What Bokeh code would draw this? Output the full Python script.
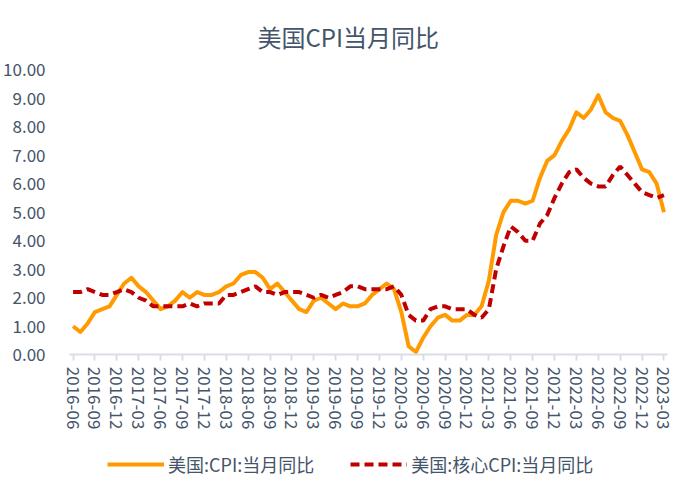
from bokeh.plotting import figure
from bokeh.models import ColumnDataSource, FixedTicker, Legend, LegendItem, Title
from bokeh.embed import file_html
from bokeh.resources import INLINE

# monthly, 2016-06 .. 2023-03
months = []
for yr in range(2016, 2024):
    for mo in range(1, 13):
        if (yr, mo) < (2016, 6) or (yr, mo) > (2023, 3):
            continue
        months.append("{}-{:02d}".format(yr, mo))

cpi = [1.0, 0.8, 1.1, 1.5, 1.6, 1.7, 2.1,
       2.5, 2.7, 2.4, 2.2, 1.9, 1.6, 1.7, 1.9, 2.2, 2.0, 2.2, 2.1,
       2.1, 2.2, 2.4, 2.5, 2.8, 2.9, 2.9, 2.7, 2.3, 2.5, 2.2, 1.9,
       1.6, 1.5, 1.9, 2.0, 1.8, 1.6, 1.8, 1.7, 1.7, 1.8, 2.1, 2.3,
       2.5, 2.3, 1.5, 0.3, 0.1, 0.6, 1.0, 1.3, 1.4, 1.2, 1.2, 1.4,
       1.4, 1.7, 2.6, 4.2, 5.0, 5.4, 5.4, 5.3, 5.4, 6.2, 6.8, 7.0,
       7.5, 7.9, 8.5, 8.3, 8.6, 9.1, 8.5, 8.3, 8.2, 7.7, 7.1, 6.5,
       6.4, 6.0, 5.0]

core = [2.2, 2.2, 2.3, 2.2, 2.1, 2.1, 2.2,
        2.3, 2.2, 2.0, 1.9, 1.7, 1.7, 1.7, 1.7, 1.7, 1.8, 1.7, 1.8,
        1.8, 1.8, 2.1, 2.1, 2.2, 2.3, 2.4, 2.2, 2.2, 2.1, 2.2, 2.2,
        2.2, 2.1, 2.0, 2.1, 2.0, 2.1, 2.2, 2.4, 2.4, 2.3, 2.3, 2.3,
        2.3, 2.4, 2.1, 1.4, 1.2, 1.2, 1.6, 1.7, 1.7, 1.6, 1.6, 1.6,
        1.4, 1.3, 1.6, 3.0, 3.8, 4.5, 4.3, 4.0, 4.0, 4.6, 4.9, 5.5,
        6.0, 6.4, 6.5, 6.2, 6.0, 5.9, 5.9, 6.3, 6.6, 6.3, 6.0, 5.7,
        5.6, 5.5, 5.6]

y_ticks = [0, 1, 2, 3, 4, 5, 6, 7, 8, 9, 10]

FONT = "Noto Sans CJK SC"
TXT = "#44546A"

src = ColumnDataSource(data=dict(x=list(range(len(months))), cpi=cpi, core=core))

# frame runs down to the bottom of the page and a little wider than the axis;
# the x axis sits at y=0 inside it, leaving room below for the legend
p = figure(width=700, height=489, output_backend="svg", toolbar_location=None,
           x_range=(-1.86, 83.27), y_range=(-4.58, 10),
           min_border_left=56, min_border_right=20, min_border_top=68, min_border_bottom=4)
p.outline_line_color = None
p.grid.grid_line_color = None

t = Title(text="美国CPI当月同比", align="left", text_font=FONT, text_font_size="24px",
          text_font_style="normal", text_color=TXT, standoff=32, offset=198)
p.add_layout(t, "above")

# x axis: every third month labelled
tick_idx = list(range(0, len(months), 3))
p.xaxis.fixed_location = 0
p.xaxis.bounds = (-0.5, len(months) - 0.5)
p.xaxis.ticker = FixedTicker(ticks=tick_idx)
p.xaxis.major_label_overrides = {i: months[i] for i in tick_idx}
p.xaxis.major_label_orientation = "vertical"
p.xaxis.major_label_text_font = FONT
p.xaxis.major_label_text_font_size = "17px"
p.xaxis.major_label_text_color = TXT
p.xaxis.axis_line_color = "#D9DEE6"
p.xaxis.axis_line_width = 2
p.xaxis.major_tick_line_color = "#D9DEE6"
p.xaxis.major_tick_line_width = 2
p.xaxis.major_tick_in = 0
p.xaxis.major_tick_out = 6
p.xaxis.minor_tick_line_color = None
p.xaxis.major_label_standoff = 6

p.yaxis.ticker = FixedTicker(ticks=y_ticks)
p.yaxis.major_label_overrides = {v: "{:.2f}".format(v) for v in y_ticks}
p.yaxis.major_label_text_font = FONT
p.yaxis.major_label_text_font_size = "17px"
p.yaxis.major_label_text_color = TXT
p.yaxis.axis_line_color = None
p.yaxis.major_tick_line_color = None
p.yaxis.minor_tick_line_color = None
p.yaxis.major_label_standoff = 8

r1 = p.line("x", "cpi", source=src, line_color="#FF9A00", line_width=4, line_join="round")
r2 = p.line("x", "core", source=src, line_color="#C00000", line_width=4, line_dash="9 5")

legend = Legend(items=[LegendItem(label="美国:CPI:当月同比", renderers=[r1]),
                       LegendItem(label="美国:核心CPI:当月同比", renderers=[r2])],
                orientation="horizontal", location=(48, 8),
                label_text_font=FONT, label_text_font_size="18px", label_text_color=TXT,
                glyph_width=57, glyph_height=18, label_height=18,
                label_standoff=4, spacing=36, padding=0, margin=0,
                border_line_color=None, background_fill_alpha=0)
p.add_layout(legend, "center")

open("out.html", "w").write(file_html(p, INLINE))
